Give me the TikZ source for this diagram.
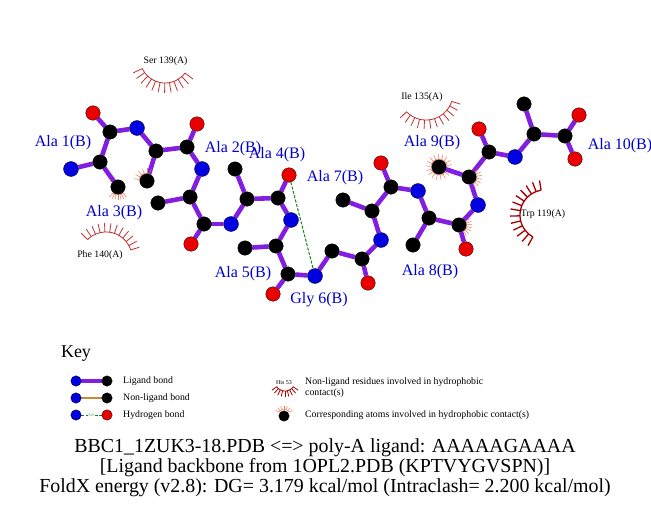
\documentclass[tikz,border=0pt]{standalone}
\usepackage{fontspec}
\setmainfont{Liberation Serif}
\usetikzlibrary{backgrounds}
\definecolor{ligbond}{RGB}{130,30,225}
\definecolor{nonlig}{RGB}{200,140,45}
\definecolor{hbond}{RGB}{20,130,30}
\definecolor{natom}{RGB}{0,0,225}
\definecolor{oatom}{RGB}{235,0,0}
\definecolor{lab}{RGB}{0,0,205}
\definecolor{lash}{RGB}{190,50,50}
\definecolor{lashdark}{RGB}{165,0,0}
\definecolor{lashsoft}{RGB}{235,120,90}
\newcommand{\eyelash}[8]{%
  \draw[#8,domain=#4:#5,samples=30,variable=\t] plot ({#1+#3*cos(\t)},{#2+#3*sin(\t)});
  \foreach \i in {1,...,#6}{%
    \pgfmathsetmacro{\aa}{#4+(#5-#4)*(\i-1)/(#6-1)}%
    \draw[#8] ({#1+#3*cos(\aa)},{#2+#3*sin(\aa)}) -- ({#1+(#3+#7)*cos(\aa)},{#2+(#3+#7)*sin(\aa)});
  }%
}
\tikzset{
  x=1pt,y=-1pt,
  atom/.style={circle,inner sep=0pt,minimum size=14.5pt,draw=black,line width=.3pt},
  catom/.style={atom,fill=black},
  natm/.style={atom,fill=natom,minimum size=15pt},
  oatm/.style={atom,fill=oatom},
  keysmall/.style={minimum size=10.5pt},
  bond/.style={draw=ligbond,line width=4.6pt},
  nlbond/.style={draw=nonlig,line width=2.8pt},
  hb/.style={draw=hbond,line width=1pt,dash pattern=on 3pt off 1.5pt},
  reslabel/.style={text=lab,font=\fontsize{16}{16}\selectfont,inner sep=0pt,yshift=-1.5pt},
  contact/.style={text=black,font=\fontsize{9.8}{9.8}\selectfont,inner sep=0pt},
  keytext/.style={text=black,font=\fontsize{9.8}{11}\selectfont,inner sep=0pt,anchor=west},
  title/.style={text=black,font=\fontsize{19.9}{19.9}\selectfont,inner sep=0pt,yshift=-1.5pt},
  lashres/.style={draw=lash,line width=.8pt},
  lashtrp/.style={draw=lashdark,line width=1.3pt},
  lashatom/.style={draw=lashsoft,line width=.5pt},
}
\begin{document}
\begin{tikzpicture}
\useasboundingbox (0,0) rectangle (651,511);
\begin{pgfonlayer}{background}
\fill[white] (0,0) rectangle (651,511);
\end{pgfonlayer}
% atoms
\node[natm]  (n1)  at (71,169) {};
\node[catom] (ca1) at (100,162) {};
\node[catom] (cb1) at (118,187) {};
\node[catom] (c1)  at (110,132) {};
\node[oatm]  (o1)  at (93,113) {};
\node[natm]  (n2)  at (137,128) {};
\node[catom] (ca2) at (156,151) {};
\node[catom] (cb2) at (147,181) {};
\node[catom] (c2)  at (187,147) {};
\node[oatm]  (o2)  at (197,124) {};
\node[natm]  (n3)  at (202,169) {};
\node[catom] (ca3) at (190,197) {};
\node[catom] (cb3) at (158,203) {};
\node[catom] (c3)  at (204,224) {};
\node[oatm]  (o3)  at (191,244) {};
\node[natm]  (n4)  at (231,224) {};
\node[catom] (ca4) at (247,199) {};
\node[catom] (cb4) at (235,169) {};
\node[catom] (c4)  at (278,198) {};
\node[oatm]  (o4)  at (289,175) {};
\node[natm]  (n5)  at (291,220) {};
\node[catom] (ca5) at (276,246) {};
\node[catom] (cb5) at (245,248) {};
\node[catom] (c5)  at (288,274) {};
\node[oatm]  (o5)  at (273,294) {};
\node[natm]  (n6)  at (315,276) {};
\node[catom] (ca6) at (332,251) {};
\node[catom] (c6)  at (362,259) {};
\node[oatm]  (o6)  at (368,283) {};
\node[natm]  (n7)  at (381,240) {};
\node[catom] (ca7) at (372,211) {};
\node[catom] (cb7) at (343,200) {};
\node[catom] (c7)  at (391,187) {};
\node[oatm]  (o7)  at (381,163) {};
\node[natm]  (n8)  at (418,191) {};
\node[catom] (ca8) at (429,218) {};
\node[catom] (cb8) at (413,245) {};
\node[catom] (c8)  at (459,225) {};
\node[oatm]  (o8)  at (466,249) {};
\node[natm]  (n9)  at (478,205) {};
\node[catom] (ca9) at (469,177) {};
\node[catom] (cb9) at (439,167) {};
\node[catom] (c9)  at (489,152) {};
\node[oatm]  (o9)  at (479,129) {};
\node[natm]  (n10) at (515,157) {};
\node[catom] (ca10) at (534,134) {};
\node[catom] (cb10) at (524,104) {};
\node[catom] (c10) at (565,136) {};
\node[oatm]  (oa10) at (579,115) {};
\node[oatm]  (ob10) at (575,159) {};
% key atoms
\node[natm,keysmall]  (k1a) at (76,381) {};
\node[catom,keysmall] (k1b) at (107,381) {};
\node[natm,keysmall]  (k2a) at (76,398) {};
\node[catom,keysmall] (k2b) at (107,398) {};
\node[natm,keysmall]  (k3a) at (76,415) {};
\node[oatm,keysmall]  (k3b) at (107,415) {};
\node[catom,keysmall] (k4)  at (284,416) {};
\begin{pgfonlayer}{background}
\foreach \a/\b in {n1/ca1,ca1/cb1,ca1/c1,c1/o1,c1/n2,n2/ca2,ca2/cb2,ca2/c2,c2/o2,c2/n3,n3/ca3,ca3/cb3,ca3/c3,c3/o3,c3/n4,n4/ca4,ca4/cb4,ca4/c4,c4/o4,c4/n5,n5/ca5,ca5/cb5,ca5/c5,c5/o5,c5/n6,n6/ca6,ca6/c6,c6/o6,c6/n7,n7/ca7,ca7/cb7,ca7/c7,c7/o7,c7/n8,n8/ca8,ca8/cb8,ca8/c8,c8/o8,c8/n9,n9/ca9,ca9/cb9,ca9/c9,c9/o9,c9/n10,n10/ca10,ca10/cb10,ca10/c10,c10/oa10,c10/ob10,k1a/k1b}{
  \draw[bond] (\a) -- (\b);
}
\draw[nlbond] (k2a) -- (k2b);
\draw[hb] (k3a) -- (k3b);
% small contact marks on atoms
\eyelash{118}{187}{8}{50}{130}{7}{5}{lashatom}
\eyelash{147}{181}{8}{190}{290}{6}{5}{lashatom}
\eyelash{439}{167}{8}{40}{350}{16}{5}{lashatom}
\eyelash{469}{177}{8}{-40}{60}{7}{5}{lashatom}
\eyelash{459}{225}{8}{-30}{55}{7}{5}{lashatom}
\eyelash{284}{416}{6.5}{215}{325}{7}{4}{lashatom}
\end{pgfonlayer}
\node[text=hbond,font=\fontsize{4}{4}\selectfont,inner sep=.4pt,fill=white] (k3t) at (91,415) {3.0};
\draw[hb] (o4) -- (n6);
% residue contact arcs
\eyelash{165}{58}{25}{37}{155}{12}{10}{lashres}
\eyelash{106}{258}{26}{225}{342}{12}{9}{lashres}
\eyelash{426}{93}{27}{18}{136}{12}{9}{lashres}
\eyelash{545}{215}{25}{119}{261}{13}{10}{lashtrp}
\eyelash{285}{381}{10}{35}{145}{9}{6}{lashdark,line width=.8pt}
% labels
\node[reslabel] (l1) at (63,141) {Ala 1(B)};
\node[reslabel] (l2) at (233,147) {Ala 2(B)};
\node[reslabel] (l3) at (114,211) {Ala 3(B)};
\node[reslabel] (l4) at (277,153) {Ala 4(B)};
\node[reslabel] (l5) at (243,272) {Ala 5(B)};
\node[reslabel] (l6) at (319,298) {Gly 6(B)};
\node[reslabel] (l7) at (335,176) {Ala 7(B)};
\node[reslabel] (l8) at (430,270) {Ala 8(B)};
\node[reslabel] (l9) at (432,141) {Ala 9(B)};
\node[reslabel] (l10) at (620,144) {Ala 10(B)};
\node[contact] (r1) at (165.5,61) {Ser 139(A)};
\node[contact] (r2) at (100,255) {Phe 140(A)};
\node[contact] (r3) at (422,97) {Ile 135(A)};
\node[contact] (r4) at (543,214) {Trp 119(A)};
% key
\node[text=black,font=\fontsize{18}{18}\selectfont,inner sep=0pt,yshift=-2pt] (key) at (76,352) {Key};
\node[keytext] (t1) at (123,381) {Ligand bond};
\node[keytext] (t2) at (123,398) {Non-ligand bond};
\node[keytext] (t3) at (123,415.5) {Hydrogen bond};
\node[text=black,font=\fontsize{6}{6}\selectfont,inner sep=0pt] (t4) at (284,383) {His 53};
\node[keytext,align=left] (t5) at (305,388) {Non-ligand residues involved in hydrophobic\\contact(s)};
\node[keytext] (t6) at (305,415.5) {Corresponding atoms involved in hydrophobic contact(s)};
% title
\node[title] (a1) at (325,446) {BBC1\_1ZUK3-18.PDB <=> poly-A ligand: AAAAAGAAAA};
\node[title] (a2) at (325,466) {[Ligand backbone from 1OPL2.PDB (KPTVYGVSPN)]};
\node[title] (a3) at (325,486) {FoldX energy (v2.8): DG= 3.179 kcal/mol (Intraclash= 2.200 kcal/mol)};
\end{tikzpicture}
\end{document}
